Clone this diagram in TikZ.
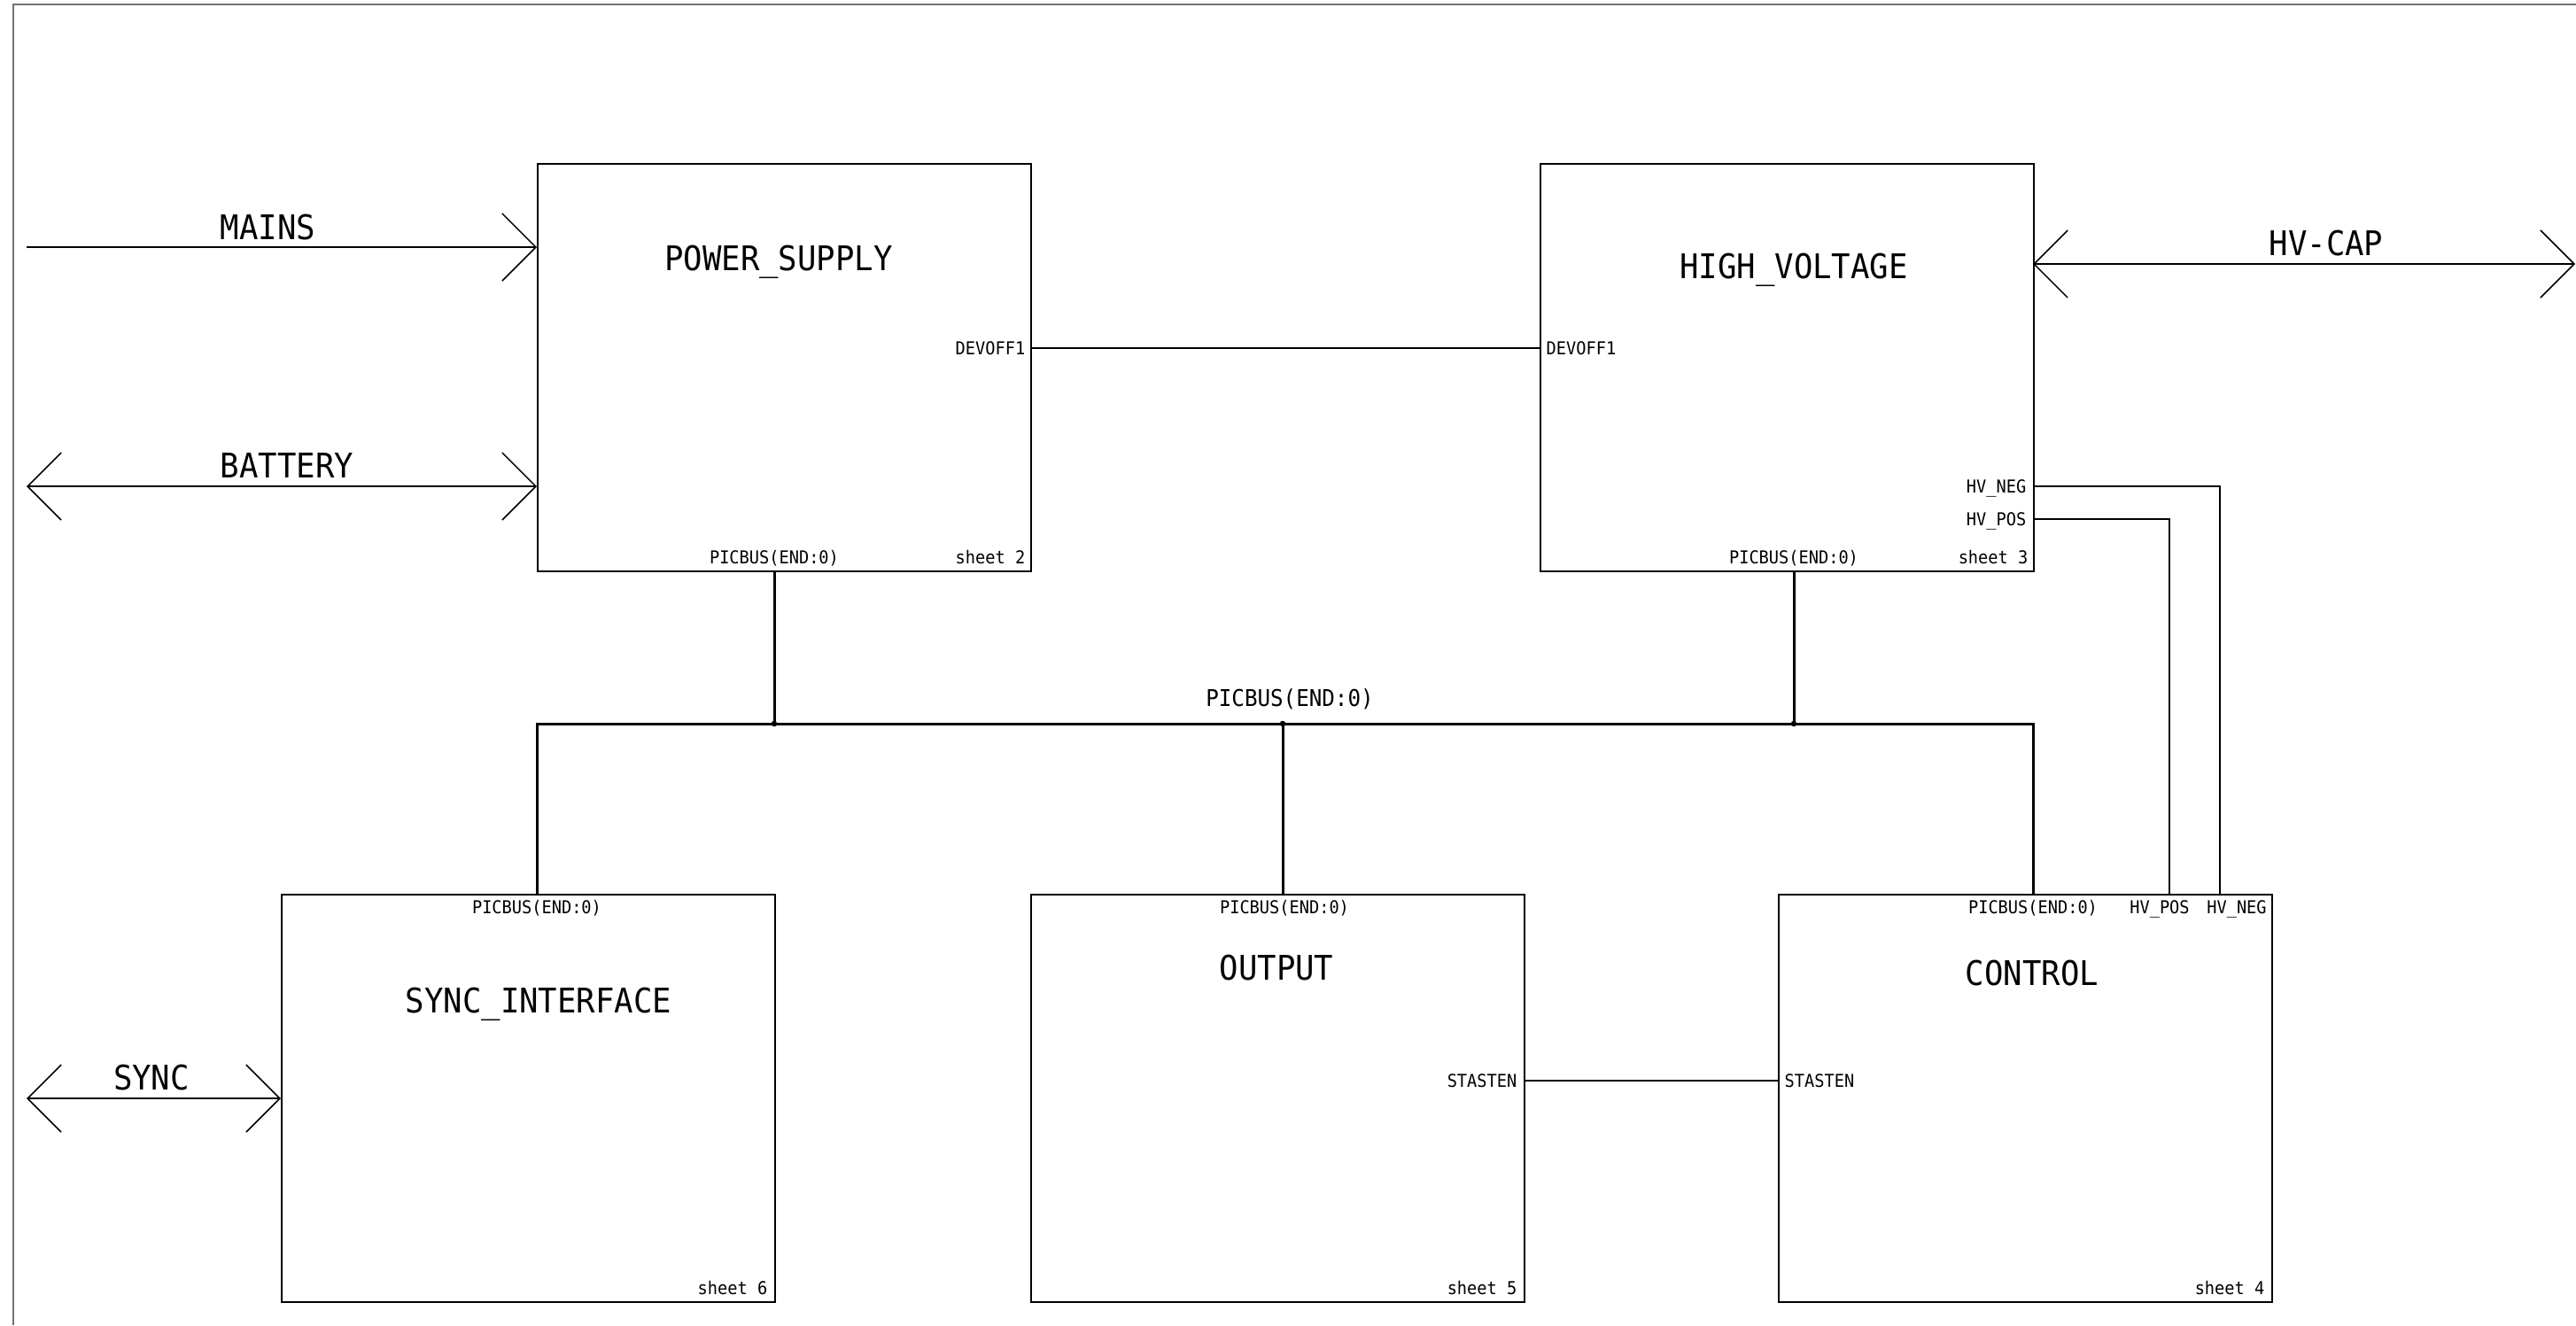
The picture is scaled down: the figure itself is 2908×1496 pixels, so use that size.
\documentclass[tikz,border=0pt]{standalone}
\usepackage{fontspec}
\newfontfamily\cadfont{DejaVu Sans Mono}[FakeStretch=0.93]
\usepackage{tikz}
\usetikzlibrary{arrows.meta,positioning,calc}

\tikzset{
  sheetbox/.style={draw, line width=0.45pt, minimum width=5.57cm, minimum height=4.6cm, inner sep=0pt, anchor=north west},
  bigtxt/.style={font=\cadfont\fontsize{10.9}{11}\selectfont, inner sep=0pt, anchor=base},
  midtxt/.style={font=\cadfont\fontsize{7.4}{8}\selectfont, inner sep=0pt, anchor=base},
  pintxt/.style={font=\cadfont\fontsize{5.7}{6}\selectfont, inner sep=0pt},
  wire/.style={line width=0.45pt},
  bus/.style={line width=0.85pt},
  port/.style={line width=0.45pt, -{Straight Barb[length=3.8mm,width=7.6mm]}},
  bport/.style={line width=0.45pt, {Straight Barb[length=3.8mm,width=7.6mm]}-{Straight Barb[length=3.8mm,width=7.6mm]}},
  junc/.style={circle, fill, inner sep=0pt, minimum size=0.065cm}
}

\begin{document}
\begin{tikzpicture}[x=0.01cm, y=-0.01cm]
        \useasboundingbox (0,0) rectangle (2908,1496);

        % sheet frame
        \draw[black!55, line width=0.6pt] (15,1496) -- (15,5) -- (2908,5);

        % sheets
        \node[sheetbox] (ps) at (606,184) {};
        \node[sheetbox] (hv) at (1738,184) {};
        \node[sheetbox] (sy) at (317,1009) {};
        \node[sheetbox] (out) at (1163,1009) {};
        \node[sheetbox] (ctl) at (2007,1009) {};

        \node[bigtxt] (ps-t) at (879,305) {POWER\_SUPPLY};
        \node[bigtxt] (hv-t) at (2025,314) {HIGH\_VOLTAGE};
        \node[bigtxt] (sy-t) at (608,1143) {SYNC\_INTERFACE};
        \node[bigtxt] (out-t) at (1441,1106) {OUTPUT};
        \node[bigtxt] (ctl-t) at (2294,1112) {CONTROL};

        % pins
        \coordinate (ps-mains) at (606,279);
        \coordinate (ps-bat) at (606,549);
        \coordinate (ps-dev) at (1163,393);
        \coordinate (ps-pic) at (874,644);
        \coordinate (hv-dev) at (1738,393);
        \coordinate (hv-cap) at (2295,298);
        \coordinate (hv-neg) at (2295,549);
        \coordinate (hv-pos) at (2295,586);
        \coordinate (hv-pic) at (2025,644);
        \coordinate (sy-sync) at (317,1240);
        \coordinate (sy-pic) at (606,1009);
        \coordinate (out-pic) at (1448,1009);
        \coordinate (out-sta) at (1720,1220);
        \coordinate (ctl-pic) at (2295,1009);
        \coordinate (ctl-pos) at (2449,1009);
        \coordinate (ctl-neg) at (2506,1009);
        \coordinate (ctl-sta) at (2007,1220);

        % pin names
        \node[pintxt, anchor=base east] (ps-dev-l) at ($(ps-dev)+(-5,7)$) {DEVOFF1};
        \node[pintxt, anchor=base] (ps-pic-l) at (874,636) {PICBUS(END:0)};
        \node[pintxt, anchor=base east] (ps-sh) at (1158,636) {sheet 2};
        \node[pintxt, anchor=base west] (hv-dev-l) at ($(hv-dev)+(7,7)$) {DEVOFF1};
        \node[pintxt, anchor=base east] (hv-neg-l) at ($(hv-neg)+(-7,7)$) {HV\_NEG};
        \node[pintxt, anchor=base east] (hv-pos-l) at ($(hv-pos)+(-7,7)$) {HV\_POS};
        \node[pintxt, anchor=base] (hv-pic-l) at (2025,636) {PICBUS(END:0)};
        \node[pintxt, anchor=base east] (hv-sh) at (2290,636) {sheet 3};
        \node[pintxt, anchor=base] (sy-pic-l) at (606,1031) {PICBUS(END:0)};
        \node[pintxt, anchor=base east] (sy-sh) at (867,1461) {sheet 6};
        \node[pintxt, anchor=base] (out-pic-l) at (1450,1031) {PICBUS(END:0)};
        \node[pintxt, anchor=base east] (out-sta-l) at ($(out-sta)+(-7,7)$) {STASTEN};
        \node[pintxt, anchor=base east] (out-sh) at (1713,1461) {sheet 5};
        \node[pintxt, anchor=base] (ctl-pic-l) at (2295,1031) {PICBUS(END:0)};
        \node[pintxt, anchor=base] (ctl-pos-l) at (2438,1031) {HV\_POS};
        \node[pintxt, anchor=base] (ctl-neg-l) at (2525,1031) {HV\_NEG};
        \node[pintxt, anchor=base west] (ctl-sta-l) at ($(ctl-sta)+(7,7)$) {STASTEN};
        \node[pintxt, anchor=base east] (ctl-sh) at (2557,1461) {sheet 4};

        % off-sheet signals
        \coordinate (mains-in) at (30,279);
        \coordinate (bat-in) at (30,549);
        \coordinate (sync-in) at (30,1240);
        \coordinate (cap-out) at (2907,298);
        \draw[port] (mains-in) -- (ps-mains);
        \draw[bport] (bat-in) -- (ps-bat);
        \draw[bport] (sync-in) -- (sy-sync);
        \draw[bport] (hv-cap) -- (cap-out);
        \node[bigtxt, anchor=base west] (mains-l) at (248,270) {MAINS};
        \node[bigtxt, anchor=base west] (bat-l) at (248,539) {BATTERY};
        \node[bigtxt] (sync-l) at (171,1230) {SYNC};
        \node[bigtxt] (cap-l) at (2626,288) {HV-CAP};

        % nets
        \draw[wire] (ps-dev) -- (hv-dev);
        \draw[wire] (out-sta) -- (ctl-sta);
        \draw[wire] (hv-neg) -| (ctl-neg);
        \draw[wire] (hv-pos) -| (ctl-pos);

        % PICBUS
        \coordinate (bus-l) at (606,817);
        \coordinate (bus-r) at (2295,817);
        \node[junc] (j1) at (874,817) {};
        \node[junc] (j2) at (1448,817) {};
        \node[junc] (j3) at (2025,817) {};
        \draw[bus] (sy-pic) -- (bus-l) -- (bus-r) -- (ctl-pic);
        \draw[bus] (ps-pic) -- (j1.center);
        \draw[bus] (hv-pic) -- (j3.center);
        \draw[bus] (j2.center) -- (out-pic);
        \node[midtxt] (bus-t) at (1456,797) {PICBUS(END:0)};
\end{tikzpicture}
\end{document}
